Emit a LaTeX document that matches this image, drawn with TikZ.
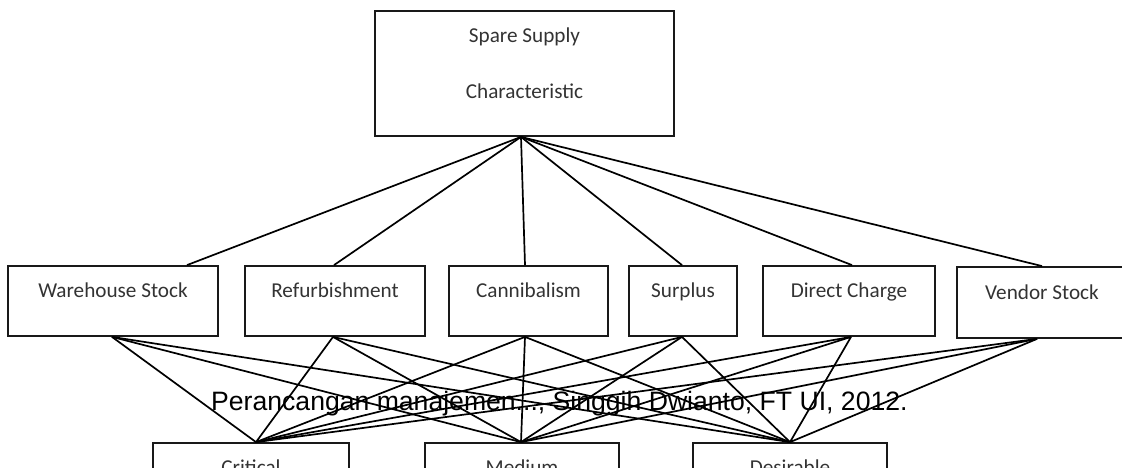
\documentclass[tikz,border=0pt]{standalone}
\usepackage{fontspec}
\setmainfont{Carlito}
\newfontfamily\footfont{Liberation Sans}
\begin{document}
\begin{tikzpicture}[x=1pt,y=-1pt,
  box/.style={draw=black!90, line width=1.8pt, rectangle, inner sep=0pt},
  link/.style={draw=black, line width=1.7pt},
  lbl/.style={anchor=base, inner sep=0pt, text=black!80,
              font=\fontsize{21.2}{25}\selectfont},
  foot/.style={anchor=base west, inner sep=0pt, text=black,
               font=\footfont\fontsize{26.6}{32}\selectfont}]
\useasboundingbox (0,0) rectangle (1122,468);
\clip (0,0) rectangle (1122,468);

% root
\node[box, minimum width=299pt, minimum height=125pt] (root) at (524.5,73.5) {};
\node[lbl] (rootA) at (524.5,43) {Spare Supply};
\node[lbl] (rootB) at (524.5,99) {Characteristic};

% supply sources
\node[box, minimum width=210pt, minimum height=70pt] (ws) at (113,301) {};
\node[box, minimum width=180pt, minimum height=70pt] (rf) at (335,301) {};
\node[box, minimum width=159pt, minimum height=70pt] (cb) at (528.5,301) {};
\node[box, minimum width=108pt, minimum height=70pt] (sp) at (683,301) {};
\node[box, minimum width=172pt, minimum height=70pt] (dc) at (849,301) {};
\node[box, minimum width=170pt, minimum height=71pt] (vs) at (1042,302.5) {};
\node[lbl] (wsL) at (113,297) {Warehouse Stock};
\node[lbl] (rfL) at (335,297) {Refurbishment};
\node[lbl] (cbL) at (528.5,297) {Cannibalism};
\node[lbl] (spL) at (683,297) {Surplus};
\node[lbl] (dcL) at (849,297) {Direct Charge};
\node[lbl] (vsL) at (1042,299) {Vendor Stock};

% criticality levels
\node[box, minimum width=196pt, minimum height=70pt] (cr) at (251,478) {};
\node[box, minimum width=194pt, minimum height=70pt] (md) at (522,478) {};
\node[box, minimum width=194pt, minimum height=70pt] (ds) at (790,478) {};
\node[lbl] (crL) at (251,474) {Critical};
\node[lbl] (mdL) at (522,474) {Medium};
\node[lbl] (dsL) at (790,474) {Desirable};

% root to sources
\coordinate (rootOut) at ([xshift=-3.5pt]root.south);
\draw[link] (rootOut) -- ([xshift=74pt]ws.north);
\draw[link] (rootOut) -- ([xshift=-1pt]rf.north);
\draw[link] (rootOut) -- ([xshift=-3.5pt]cb.north);
\draw[link] (rootOut) -- ([xshift=-1pt]sp.north);
\draw[link] (rootOut) -- ([xshift=3pt]dc.north);
\draw[link] (rootOut) -- (vs.north);

% sources to levels
\coordinate (crIn) at ([xshift=5pt]cr.north);
\coordinate (mdIn) at ([xshift=-1pt]md.north);
\coordinate (dsIn) at (ds.north);
\coordinate (wsOut) at ([xshift=-1pt]ws.south);
\coordinate (rfOut) at ([xshift=-2pt]rf.south);
\coordinate (cbOut) at ([xshift=-3.5pt]cb.south);
\coordinate (spOut) at ([xshift=-1pt]sp.south);
\coordinate (dcOut) at ([xshift=2pt]dc.south);
\coordinate (vsOut) at ([xshift=-5pt]vs.south);
\foreach \s in {wsOut,rfOut,cbOut,spOut,dcOut,vsOut}
  \foreach \t in {crIn,mdIn,dsIn}
    \draw[link] (\s) -- (\t);

% source note
\node[foot] (note) at (211,410) {Perancangan manajemen..., Singgih Dwianto, FT UI, 2012.};
\end{tikzpicture}
\end{document}
